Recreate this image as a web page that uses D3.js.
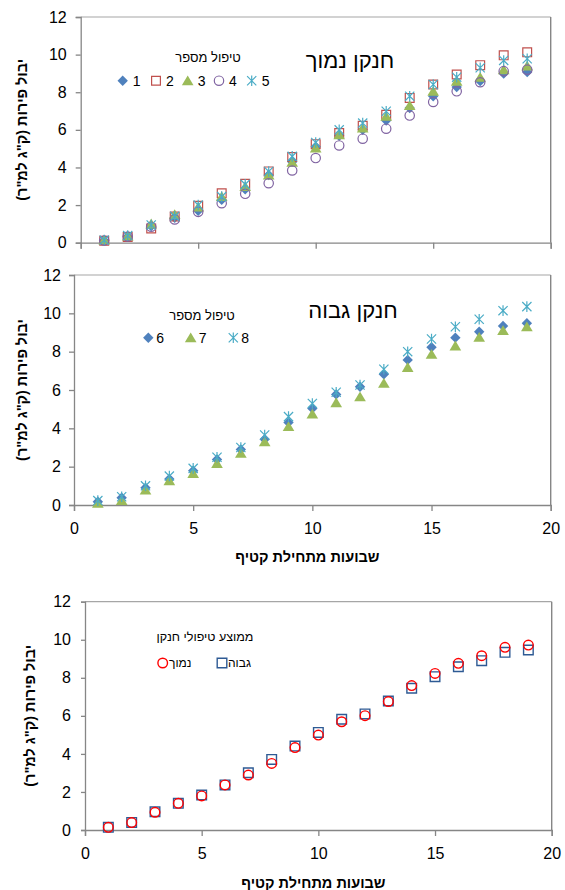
<!DOCTYPE html>
<html><head><meta charset="utf-8">
<script src="https://cdn.jsdelivr.net/npm/d3@7"></script>
<style>
html,body{margin:0;padding:0;background:#fff;}
svg{display:block;font-family:"Liberation Sans",Arial,"DejaVu Sans",sans-serif;}
</style></head>
<body>
<svg id="chart" width="565" height="890"></svg>
<script>
// ---- data ----
const weeks = [1,2,3,4,5,6,7,8,9,10,11,12,13,14,15,16,17,18,19];
const t1 = [0.12,0.33,0.88,1.32,1.70,2.28,2.84,3.60,4.30,5.10,5.69,6.00,6.50,7.16,7.79,8.28,8.59,9.00,9.07];
const t2 = [0.10,0.30,0.76,1.39,1.96,2.63,3.13,3.79,4.55,5.24,5.83,6.22,6.80,7.70,8.41,8.94,9.44,9.96,10.12];
const t3 = [0.14,0.36,1.00,1.50,1.90,2.45,2.99,3.60,4.28,5.03,5.74,6.10,6.72,7.29,8.05,8.59,8.80,9.20,9.40];
const t4 = [0.12,0.33,0.85,1.24,1.64,2.10,2.60,3.16,3.84,4.50,5.17,5.53,6.06,6.76,7.48,8.05,8.53,9.12,9.20];
const t5 = [0.14,0.38,0.94,1.40,2.00,2.45,3.10,3.79,4.59,5.33,6.00,6.36,6.99,7.79,8.41,8.80,9.30,9.69,9.78];
const t6 = [0.17,0.38,0.90,1.36,1.79,2.38,2.90,3.43,4.31,5.04,5.77,6.17,6.82,7.57,8.23,8.73,9.04,9.34,9.48];
const t7 = [0.09,0.23,0.78,1.27,1.65,2.17,2.70,3.30,4.09,4.75,5.34,5.65,6.35,7.18,7.86,8.30,8.75,9.10,9.30];
const t8 = [0.23,0.43,1.00,1.51,1.91,2.49,3.00,3.65,4.61,5.30,5.88,6.26,7.08,8.00,8.66,9.30,9.69,10.14,10.35];
const avgLow  = [0.14,0.39,0.93,1.40,1.79,2.37,2.89,3.50,4.33,4.99,5.69,6.01,6.75,7.59,8.23,8.76,9.16,9.60,9.72];
const avgHigh = [0.14,0.40,0.96,1.40,1.84,2.37,3.01,3.71,4.41,5.13,5.82,6.10,6.78,7.45,8.06,8.58,8.90,9.34,9.46];
const xTicks = [0,5,10,15,20];
const yTicks = [0,2,4,6,8,10,12];
const lowNames = ["1","2","3","4","5"];
const highNames = ["6","7","8"];
const avgNames = ["נמוך","גבוה"];
const titleLow = "חנקן נמוך";
const titleHigh = "חנקן גבוה";
const legendTitle = "טיפול מספר";
const avgLegendTitle = "ממוצע טיפולי חנקן";
const yTitle = 'יבול פירות (ק"ג למ"ר)';
const xTitle = "שבועות מתחילת קטיף";

const svg = d3.select("#chart");
const AX = "#868686";

function symbolPath(kind, s){
  if(kind==="diamond") return `M0,${-s}L${s},0L0,${s}L${-s},0Z`;
  if(kind==="square") return `M${-s},${-s}H${s}V${s}H${-s}Z`;
  if(kind==="triangle") return `M0,${-s}L${s*1.1},${s*0.85}L${-s*1.1},${s*0.85}Z`;
  if(kind==="circle") return `M${s},0A${s},${s} 0 1,1 ${-s},0A${s},${s} 0 1,1 ${s},0Z`;
  if(kind==="star") return `M${-s},${-s}L${s},${s}M${-s},${s}L${s},${-s}M0,${-s*1.15}L0,${s*1.15}`;
}
const styles = {
  s1:{kind:"diamond", fill:"#4F81BD", stroke:"none", size:5.2},
  s2:{kind:"square", fill:"none", stroke:"#C0504D", size:4.4, sw:1.2},
  s3:{kind:"triangle", fill:"#9BBB59", stroke:"none", size:5.3},
  s4:{kind:"circle", fill:"none", stroke:"#8064A2", size:4.7, sw:1.2},
  s5:{kind:"star", fill:"none", stroke:"#4BACC6", size:4.6, sw:1.2},
  aLow:{kind:"circle", fill:"none", stroke:"#FF0000", size:4.8, sw:1.4},
  aHigh:{kind:"square", fill:"none", stroke:"#2E5A94", size:4.8, sw:1.4}
};
function drawMarker(g, st, x, y){
  g.append("path").attr("transform",`translate(${x},${y})`)
   .attr("d", symbolPath(st.kind, st.size))
   .attr("fill", st.fill).attr("stroke", st.stroke).attr("stroke-width", st.sw||1);
}

function panel(cfg){
  const x = d3.scaleLinear().domain([0,20]).range([cfg.x0, cfg.x1]);
  const y = d3.scaleLinear().domain([0,12]).range([cfg.y0, cfg.y1]);
  const g = svg.append("g");
  // frame: top (light) and right (darker)
  g.append("line").attr("x1",cfg.x0).attr("x2",cfg.x1).attr("y1",cfg.y1).attr("y2",cfg.y1)
   .attr("stroke","#A6A6A6").attr("stroke-width",1.2);
  g.append("line").attr("x1",cfg.x1).attr("x2",cfg.x1).attr("y1",cfg.y1).attr("y2",cfg.y0)
   .attr("stroke",AX).attr("stroke-width",1.4);
  // x axis
  const xa = g.append("g").attr("transform",`translate(0,${cfg.y0})`)
    .call(d3.axisBottom(x).tickValues(xTicks).tickSize(6).tickPadding(cfg.xPad||10).tickFormat(cfg.xLabels? d3.format("d") : ""));
  xa.select(".domain").attr("stroke",AX).attr("stroke-width",1.3);
  xa.selectAll(".tick line").attr("stroke",AX).attr("stroke-width",1.3);
  xa.selectAll("text").attr("font-size",16).attr("fill","#000").attr("font-family","Liberation Sans, Arial, sans-serif");
  // y axis
  const ya = g.append("g").attr("transform",`translate(${cfg.x0},0)`)
    .call(d3.axisLeft(y).tickValues(yTicks).tickSize(cfg.yTick||5).tickPadding(cfg.yPad).tickFormat(d3.format("d")));
  ya.select(".domain").attr("stroke",AX).attr("stroke-width",1.3);
  ya.selectAll(".tick line").attr("stroke",AX).attr("stroke-width",1.3);
  ya.selectAll("text").attr("font-size",16).attr("fill","#000").attr("font-family","Liberation Sans, Arial, sans-serif");
  // y title
  svg.append("text").attr("transform",`translate(${cfg.yTitleX},${(cfg.y0+cfg.y1)/2}) rotate(-90)`)
    .attr("direction","rtl").attr("text-anchor","middle").attr("dominant-baseline","central")
    .attr("font-size",14.5).attr("font-weight","bold").text(yTitle);
  if(cfg.xTitleY){
    svg.append("text").attr("x",(cfg.x0+cfg.x1)/2 - 5).attr("y",cfg.xTitleY)
      .attr("direction","rtl").attr("text-anchor","middle").attr("dominant-baseline","central")
      .attr("font-size",14.5).attr("font-weight","bold").text(xTitle);
  }
  // series
  cfg.series.forEach(s=>{
    const mg = g.append("g");
    s.values.forEach((v,i)=> drawMarker(mg, styles[s.style], x(weeks[i]), y(v)));
  });
  return {x,y,g};
}

// Panel 1
panel({x0:80.7,x1:550.7,y0:242.7,y1:17,yPad:9,yTitleX:22,xLabels:false,
  series:[{values:t1,style:"s1"},{values:t2,style:"s2"},{values:t3,style:"s3"},{values:t4,style:"s4"},{values:t5,style:"s5"}]});
svg.append("text").attr("x",350).attr("y",60).attr("text-anchor","middle").attr("dominant-baseline","central")
  .attr("direction","rtl").attr("font-size",22).text(titleLow);
svg.append("text").attr("x",208).attr("y",57).attr("text-anchor","middle").attr("dominant-baseline","central")
  .attr("direction","rtl").attr("font-size",13).text(legendTitle);
const leg1x = [122.7,156,187.7,219,251.7];
["s1","s2","s3","s4","s5"].forEach((st,i)=>{
  const lg = svg.append("g");
  drawMarker(lg, styles[st], leg1x[i], 80.7);
  svg.append("text").attr("x",leg1x[i]+10).attr("y",81).attr("dominant-baseline","central")
    .attr("font-size",14).text(lowNames[i]);
});

// Panel 2
panel({x0:74,x1:550.7,y0:505,y1:275,yPad:8,yTitleX:22,xLabels:true,xPad:12,xTitleY:557,
  series:[{values:t6,style:"s1"},{values:t7,style:"s3"},{values:t8,style:"s5"}]});
svg.append("text").attr("x",353).attr("y",310).attr("text-anchor","middle").attr("dominant-baseline","central")
  .attr("direction","rtl").attr("font-size",22).text(titleHigh);
svg.append("text").attr("x",202).attr("y",315).attr("text-anchor","middle").attr("dominant-baseline","central")
  .attr("direction","rtl").attr("font-size",13).text(legendTitle);
const leg2x = [148.3,190.7,233.3];
["s1","s3","s5"].forEach((st,i)=>{
  drawMarker(svg.append("g"), styles[st], leg2x[i], 337.7);
  svg.append("text").attr("x",leg2x[i]+8).attr("y",338).attr("dominant-baseline","central")
    .attr("font-size",14).text(highNames[i]);
});

// Panel 3
panel({x0:85,x1:551.7,y0:830,y1:601.7,yPad:10,yTick:4,yTitleX:30,xLabels:true,xPad:12,xTitleY:883,
  series:[{values:avgHigh,style:"aHigh"},{values:avgLow,style:"aLow"}]});
svg.append("text").attr("x",205).attr("y",637).attr("text-anchor","middle").attr("dominant-baseline","central")
  .attr("direction","rtl").attr("font-size",12.5).text(avgLegendTitle);
drawMarker(svg.append("g"), styles.aLow, 162.7, 663);
svg.append("text").attr("x",169).attr("y",663).attr("dominant-baseline","central").attr("text-anchor","start")
  .attr("font-size",12).text(avgNames[0]);
drawMarker(svg.append("g"), styles.aHigh, 222, 663);
svg.append("text").attr("x",228).attr("y",663).attr("dominant-baseline","central").attr("text-anchor","start")
  .attr("font-size",12).text(avgNames[1]);
</script>
</body></html>
